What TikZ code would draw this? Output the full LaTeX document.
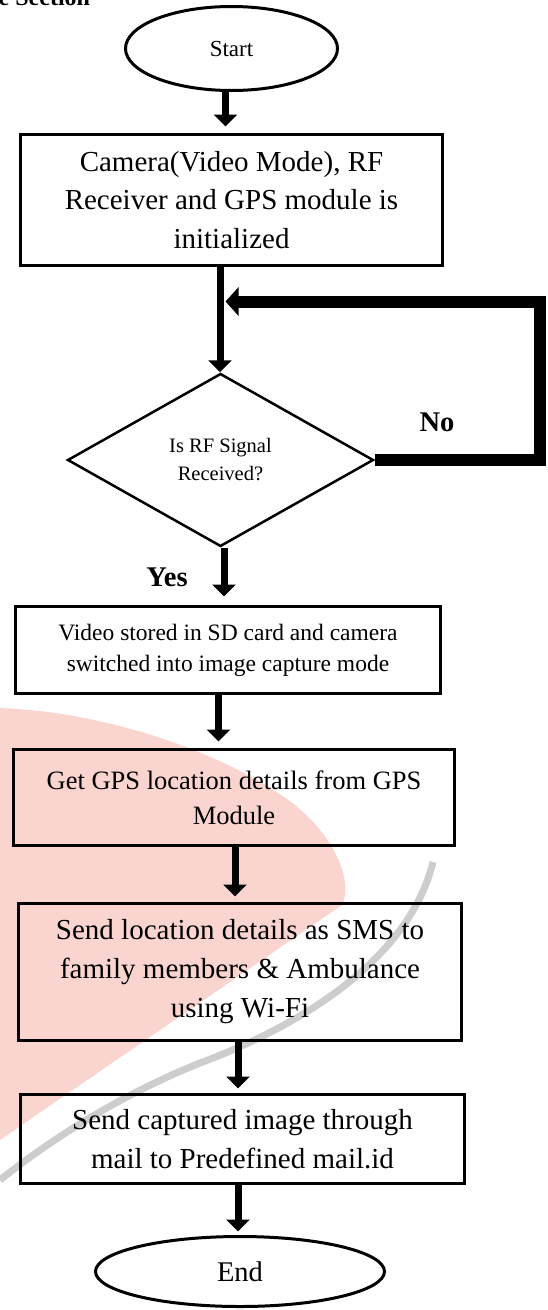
\documentclass[tikz,border=0pt]{standalone}
\usepackage{fontspec}
\setmainfont{Liberation Serif}
\usetikzlibrary{arrows.meta,shapes.geometric}
\definecolor{wmpink}{RGB}{250,213,208}
\definecolor{wmgrey}{RGB}{205,205,205}
\begin{document}
\begin{tikzpicture}[x=1pt,y=-1pt,
  box/.style={draw,line width=3pt,inner sep=0pt,align=center},
  term/.style={draw,ellipse,line width=3pt,inner sep=0pt},
  flow/.style={line width=7pt,-{Triangle[width=23pt,length=12pt]}},
  loopflow/.style={line width=12pt,line join=miter,-{Triangle[width=28pt,length=13pt]}},
  lbl/.style={inner sep=0pt,font=\bfseries\fontsize{28.5}{28.5}\selectfont}]
\useasboundingbox (0,0) rectangle (548,1310);
% watermark background
\fill[wmpink] (0,708) .. controls (110,712) and (230,755) .. (295,805) .. controls (340,842) and (352,885) .. (342,905) -- (0,1140) -- cycle;
\draw[wmgrey,line width=7pt] (433,862) .. controls (410,955) and (310,1022) .. (200,1063) .. controls (120,1095) and (50,1140) .. (0,1180);
% heading fragment
\node[anchor=base west,inner sep=0pt,font=\bfseries\fontsize{24}{24}\selectfont] (sec) at (-1.5,5) {e Section};
% nodes
\node[term,minimum width=212pt,minimum height=84pt,font=\fontsize{23}{23}\selectfont] (start) at (231.5,48.5) {Start};
\node[box,minimum width=422pt,minimum height=131pt,font=\fontsize{29}{38.5}\selectfont] (init) at (231.5,200) {Camera(Video Mode), RF\\Receiver and GPS module is\\initialized};
\node[diamond,draw,line width=2.5pt,inner sep=0pt,minimum width=306pt,minimum height=173pt,align=center,font=\fontsize{20.5}{28}\selectfont] (rf) at (220.5,460) {Is RF Signal\\Received?};
\node[box,minimum width=425pt,minimum height=87pt,font=\fontsize{23.5}{31}\selectfont] (video) at (228,650) {Video stored in SD card and camera\\switched into image capture mode};
\node[box,minimum width=441pt,minimum height=96pt,font=\fontsize{26.5}{35}\selectfont] (gps) at (234,797.5) {Get GPS location details from GPS\\Module};
\node[box,minimum width=443pt,minimum height=137pt,font=\fontsize{29}{39}\selectfont] (sms) at (240,972) {Send location details as SMS to\\family members \& Ambulance\\using Wi-Fi};
\node[box,minimum width=444pt,minimum height=89pt,font=\fontsize{29}{39}\selectfont] (mail) at (242.5,1139) {Send captured image through\\mail to Predefined mail.id};
\node[term,minimum width=289pt,minimum height=70pt,font=\fontsize{28.5}{28.5}\selectfont] (end) at (240,1271.5) {End};
% labels
\node[lbl] (no) at (437,422) {No};
\node[lbl] (yes) at (167,577.5) {Yes};
% connectors
\draw[flow,shorten >=6.5pt] ([xshift=-6pt]start.south) -- ([xshift=-6pt]start.south |- init.north);
\draw[flow] ([xshift=-11.5pt]init.south) -- ([xshift=-11.5pt]init.south |- rf.north);
\draw[flow,shorten >=8.5pt] ([xshift=3.5pt]rf.south) -- ([xshift=3.5pt]rf.south |- video.north);
\draw[flow,shorten >=6.5pt] ([xshift=-9.5pt]video.south) -- ([xshift=-9.5pt]video.south |- gps.north);
\draw[flow,shorten >=5.5pt] ([xshift=1pt]gps.south) -- ([xshift=1pt]gps.south |- sms.north);
\draw[flow,shorten >=4.5pt] ([xshift=-2pt]sms.south) -- ([xshift=-2pt]sms.south |- mail.north);
\draw[flow,shorten >=3.5pt] ([xshift=-4.5pt]mail.south) -- ([xshift=-4.5pt]mail.south |- end.north);
% loop back
\coordinate (loopbr) at (540,460);
\coordinate (looptr) at (540,301.5);
\coordinate (loopin) at (225.5,301.5);
\draw[loopflow] (rf.east) -- (loopbr) -- (looptr) -- (loopin);
\end{tikzpicture}
\end{document}
